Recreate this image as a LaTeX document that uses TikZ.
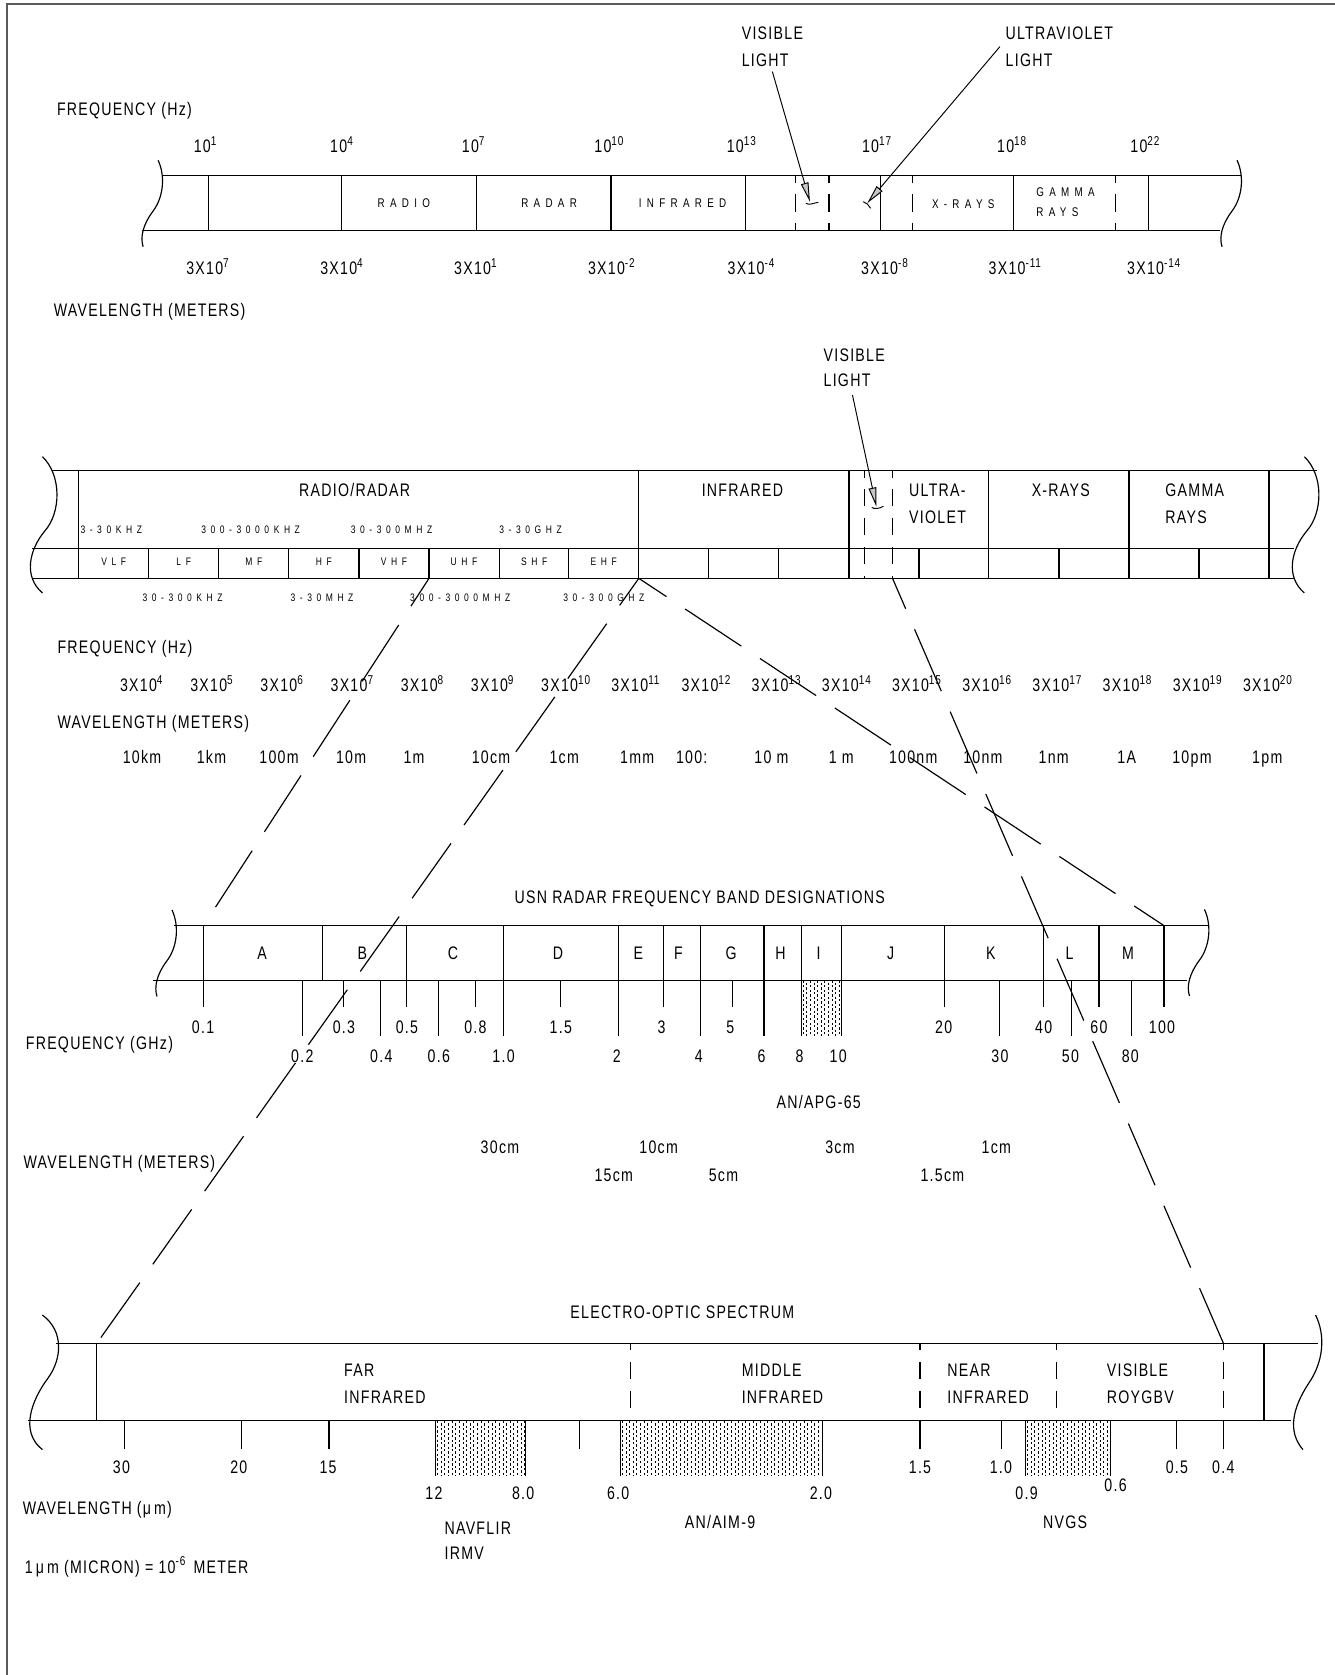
\documentclass[tikz,border=0pt]{standalone}
\usepackage{fontspec}
\setmainfont{Liberation Sans}[FakeStretch=0.78,LetterSpace=7]
\newfontfamily\spcfont{Liberation Sans}[FakeStretch=0.78,LetterSpace=42]
\usetikzlibrary{arrows.meta}
\newcommand\myexp[1]{\raisebox{3.4pt}{\fontsize{6}{6}\selectfont #1}}
\tikzset{
 ln/.style={line width=0.55pt},
 txt/.style={inner sep=0pt, anchor=base, font=\fontsize{8.5}{9}\selectfont},
 txtw/.style={txt, anchor=base west},
 sp/.style={inner sep=0pt, anchor=base, font=\spcfont\fontsize{5.9}{6}\selectfont},
 sps/.style={inner sep=0pt, anchor=base, font=\spcfont\fontsize{5.1}{5.5}\selectfont},
 spsw/.style={sps, anchor=base west},
 spw/.style={sp, anchor=base west},
 longdash/.style={line width=0.55pt, dash pattern=on 31.5pt off 10.5pt, dash phase=16pt},
 vd/.style={line width=0.55pt, dash pattern=on 8pt off 5.5pt, dash phase=4.75pt},
 ptr/.style={line width=0.45pt, -{Triangle[length=9pt,width=3.6pt,fill=gray!45]}},
}
\newcommand\stip[4]{%
 \begin{scope}
 \clip (#1,#2) rectangle (#3,#4);
 \foreach \k in {0,...,60}{
   \pgfmathsetmacro\ph{mod(\k,2)*1.1}
   \draw[line width=0.3pt, dash pattern=on 1.1pt off 1.1pt, dash phase=\ph pt] ({#1+1.7+\k*3.4},#2) -- ({#1+1.7+\k*3.4},#4);
 }
 \end{scope}
 \draw[ln] (#1,#2) -- (#1,#4) (#3,#2) -- (#3,#4);}
\begin{document}
\begin{tikzpicture}[x=0.5pt,y=-0.5pt]
\useasboundingbox (0,0) rectangle (1249.7,1568);
\draw[line width=0.9pt,black!65] (6.3,1568) -- (6.3,3.7) -- (1249.7,3.7);

% ================= TOP SPECTRUM =================
\node[txtw] (tfreq) at (53,108) {FREQUENCY (Hz)};
\node[txtw] (tvis) at (694,37.4) {VISIBLE};
\node[txtw] (tvis2) at (694,62.4) {LIGHT};
\node[txtw] (tuv) at (941,37.4) {ULTRAVIOLET};
\node[txtw] (tuv2) at (941,62.4) {LIGHT};
\foreach \x/\e [count=\i] in {192/1,319.7/4,443/7,570/10,694/13,820.6/17,947/18,1071.8/22}
  \node[txt] (tf\i) at (\x,143) {10\myexp{\e}};
\foreach \x/\e [count=\i] in {194.3/7,319.7/4,445/1,572.3/-2,703/-4,828/-8,950/-11,1080/-14}
  \node[txt] (tw\i) at (\x,257) {3X10\myexp{\e}};
\node[txtw] (twl) at (50,296.4) {WAVELENGTH (METERS)};

\draw[ln] (152,164.5) -- (1162,164.5);
\draw[ln] (133,216) -- (1142,216);
\foreach \x in {195,320,446,572,698,824,949,1075} \draw[ln] (\x,164.5) -- (\x,216);
\foreach \x in {745,776,854,1044} \draw[vd] (\x,164.5) -- (\x,216);
\draw[ln] (148,150) .. controls (155,165) and (153,185) .. (143,198) .. controls (134,210) and (131,222) .. (134,231);
\draw[ln] (1158,150) .. controls (1165,165) and (1163,185) .. (1153,198) .. controls (1144,210) and (1141,222) .. (1144,231);
\node[sp] (tradio) at (378,194) {RADIO};
\node[sp] (tradar) at (514,194) {RADAR};
\node[sp] (tir) at (639,194) {INFRARED};
\node[sp] (txr) at (901.7,195) {X-RAYS};
\node[spw] (tgam) at (969.8,184) {GAMMA};
\node[spw] (tgam2) at (969.8,202.8) {RAYS};

\coordinate (va1) at (723,67); \coordinate (va2) at (758.2,188.8);
\draw[ptr] (va1) -- (va2);
\draw[line width=0.45pt] (754.4,190.3) .. controls (757,192.5) and (762,190) .. (766,189.4);
\coordinate (ua1) at (936,43.7); \coordinate (ua2) at (811.8,190.3);
\draw[ptr] (ua1) -- (ua2);
\draw[line width=0.45pt] (808,188.8) -- (812,191) -- (815,195);

% ================= MIDDLE SPECTRUM =================
\node[txtw] (mvis) at (770.6,338.5) {VISIBLE};
\node[txtw] (mvis2) at (770.6,362) {LIGHT};
\coordinate (ma1) at (798,369.8); \coordinate (ma2) at (820.4,474.3);
\draw[ptr] (ma1) -- (ma2);
\draw[line width=0.45pt] (816,475) .. controls (819,477) and (823,476) .. (827,474);

\draw[ln] (49,440.6) -- (1233,440.6);
\draw[ln] (30,513.6) -- (1211,513.6);
\draw[ln] (31,541.4) -- (1212,541.4);
\draw[ln] (39.7,427.5) .. controls (58,445) and (57,480) .. (42,497) .. controls (27,515) and (22,540) .. (39.7,555);
\draw[ln] (1221,427.5) .. controls (1239.3,445) and (1238.3,480) .. (1223.3,497) .. controls (1208.3,515) and (1203.3,540) .. (1221,555);
\foreach \x in {73.6,598,794.7,925.6,1056.9,1187.9} \draw[ln] (\x,440.6) -- (\x,541.4);
\foreach \x in {139.2,204.8,270.4,336,401.6,467.2,532.4,663.4,729,860.3,991.3,1122.4} \draw[ln] (\x,513.6) -- (\x,541.4);
\foreach \x in {809,835.5} \draw[vd] (\x,440.6) -- (\x,541.4);

\node[txt] (mrr) at (332,465) {RADIO/RADAR};
\node[txt] (mir) at (695,465) {INFRARED};
\node[txtw] (muv) at (850.7,465) {ULTRA-};
\node[txtw] (muv2) at (850.7,489.7) {VIOLET};
\node[txt] (mxr) at (993,465) {X-RAYS};
\node[txtw] (mgam) at (1090.6,465) {GAMMA};
\node[txtw] (mgam2) at (1090.6,489.7) {RAYS};
\node[spsw] (mb1) at (75,499) {3-30KHZ};
\node[spsw] (mb2) at (188,499) {300-3000KHZ};
\node[spsw] (mb3) at (328,499) {30-300MHZ};
\node[spsw] (mb4) at (467,499) {3-30GHZ};
\foreach \x/\t [count=\i] in {106.4/VLF,172/LF,237.6/MF,303.2/HF,368.8/VHF,434.4/UHF,500/SHF,565.2/EHF}
  \node[sps] (mc\i) at (\x,529) {\t};
\node[spsw] (md1) at (133,563) {30-300KHZ};
\node[spsw] (md2) at (271.6,563) {3-30MHZ};
\node[spsw] (md3) at (383.6,563) {300-3000MHZ};
\node[spsw] (md4) at (527,563) {30-300GHZ};

\node[txtw] (mfreq) at (53.5,611.6) {FREQUENCY (Hz)};
\foreach \e [count=\i from 0] in {4,5,...,20}
  \node[txtw] (mf\i) at ({112+65.7*\i},647.5) {3X10\myexp{\e}};
\node[txtw] (mwl) at (53.5,681.8) {WAVELENGTH (METERS)};
\foreach \x/\t [count=\i] in {133/10km,197.9/1km,261.2/100m,328.7/10m,387.6/1m,459.7/10cm,528.2/1cm,596.5/1mm,647.5/100:,722.2/10 m,787.5/1 m,854.9/100nm,920.1/10nm,986.4/1nm,1054.7/1A,1115.8/10pm,1186.3/1pm}
  \node[txt] (mw\i) at (\x,714.5) {\t};

% ================= USN RADAR =================
\node[txt] (utitle) at (655,845.6) {USN RADAR FREQUENCY BAND DESIGNATIONS};
\draw[ln] (163,866.5) -- (1130.6,866.5);
\draw[ln] (143,917.6) -- (1111.5,917.6);
\draw[ln] (161,851.8) .. controls (168,866.8) and (166,886.8) .. (156,899.8) .. controls (147,911.8) and (144,923.8) .. (147,932.8);
\draw[ln] (1127.5,851.3) .. controls (1134.5,866.3) and (1132.5,886.3) .. (1122.5,899.3) .. controls (1113.5,911.3) and (1110.5,923.3) .. (1113.5,932.3);
\foreach \x in {301.7} \draw[ln] (\x,866.5) -- (\x,917.6);
\foreach \x in {190.5,380.3,621.3,883.9,977.2,1028.8,1089.6} \draw[ln] (\x,866.5) -- (\x,943);
\foreach \x in {471.4,578.8,655.8,715.2} \draw[ln] (\x,866.5) -- (\x,969.8);
\foreach \x in {321.8,445,524.9,685.7} \draw[ln] (\x,917.6) -- (\x,943);
\foreach \x in {282.9,356.4,410.4,936,1003,1059} \draw[ln] (\x,917.6) -- (\x,969.8);
\draw[ln] (750,866.5) -- (750,917.6) (788,866.5) -- (788,917.6);
\stip{750}{917.6}{788}{969.8}
\foreach \x/\t [count=\i] in {245.3/A,339.3/B,424.1/C,522.3/D,597.6/E,635.2/F,684.4/G,730.7/H,766.4/I,833.8/J,927.6/K,1001.3/L,1056/M}
  \node[txt] (ub\i) at (\x,898.6) {\t};
\foreach \x/\t [count=\i] in {190.1/0.1,322/0.3,380.9/0.5,445/0.8,525/1.5,619.3/3,683.6/5,883.4/20,977/40,1028.7/60,1087.8/100}
  \node[txt] (ut\i) at (\x,967.3) {\t};
\foreach \x/\t [count=\i] in {283/0.2,357/0.4,410.8/0.6,471.4/1.0,577.5/2,654.1/4,713/6,748.4/8,784.6/10,936/30,1002.1/50,1058.1/80}
  \node[txt] (uu\i) at (\x,994.7) {\t};
\node[txtw] (ufreq) at (23.8,982.2) {FREQUENCY (GHz)};
\node[txt] (uapg) at (766.4,1037.4) {AN/APG-65};
\node[txtw] (uwl) at (21.7,1093.6) {WAVELENGTH (METERS)};
\foreach \x/\t [count=\i] in {468/30cm,616.6/10cm,786.3/3cm,932.7/1cm}
  \node[txt] (uw\i) at (\x,1079.6) {\t};
\foreach \x/\t [count=\i] in {574.6/15cm,677.2/5cm,882.2/1.5cm}
  \node[txt] (uv\i) at (\x,1106) {\t};

% ================= ELECTRO-OPTIC =================
\node[txt] (etitle) at (638.7,1234) {ELECTRO-OPTIC SPECTRUM};
\draw[ln] (52.2,1257.4) -- (1233.7,1257.4);
\draw[ln] (25.9,1330.1) -- (1208.4,1330.1);
\draw[ln] (39.7,1231) .. controls (60,1246) and (58,1272) .. (45,1290) .. controls (30,1310) and (18,1340) .. (39.7,1357);
\draw[ln] (1231.5,1231) .. controls (1241,1250) and (1239,1275) .. (1225,1295) .. controls (1210,1318) and (1205,1340) .. (1219.7,1357);
\foreach \x in {90.7,1183.2} \draw[ln] (\x,1257.4) -- (\x,1330.1);
\foreach \x in {590,861.2,988.7,1145.2} \draw[vd] (\x,1257.4) -- (\x,1330.1);
\foreach \x in {116.2,226.1,308,542.4,861.2,937.8,1101,1145.2} \draw[ln] (\x,1330.1) -- (\x,1356.6);
\stip{407.8}{1330.1}{492.2}{1381.6}
\stip{580.8}{1330.1}{769.8}{1381.6}
\stip{960.1}{1330.1}{1039.2}{1381.6}
\node[txtw] (efar) at (321.8,1288.6) {FAR};
\node[txtw] (efar2) at (321.8,1313.6) {INFRARED};
\node[txtw] (emid) at (694,1288.6) {MIDDLE};
\node[txtw] (emid2) at (694,1313.6) {INFRARED};
\node[txtw] (enear) at (886.5,1288.6) {NEAR};
\node[txtw] (enear2) at (886.5,1313.6) {INFRARED};
\node[txtw] (evis) at (1035.8,1288.6) {VISIBLE};
\node[txtw] (evis2) at (1035.8,1313.6) {ROYGBV};
\foreach \x/\t [count=\i] in {113.7/30,223.6/20,307.1/15,861.2/1.5,937/1.0,1101.7/0.5,1145.2/0.4}
  \node[txt] (el\i) at (\x,1379) {\t};
\foreach \x/\t [count=\i] in {406.2/12,489.7/8.0,578.7/6.0,768.5/2.0,961/0.9}
  \node[txt] (em\i) at (\x,1404) {\t};
\node[txt] (e06) at (1044.3,1396.2) {0.6};
\node[txtw] (ewl) at (20.9,1418) {WAVELENGTH (μ\,m)};
\node[txtw] (enav) at (415.8,1436.8) {NAVFLIR};
\node[txtw] (enav2) at (415.8,1460.2) {IRMV};
\node[txt] (eaim) at (674,1430.5) {AN/AIM-9};
\node[txt] (envg) at (997,1430.5) {NVGS};
\node[txtw] (emic) at (23,1472.7) {1\,μ\,m (MICRON) = 10\myexp{-6}\, METER};

% ================= CONNECTORS =================
\coordinate (c1) at (401.6,541.4); \coordinate (c1e) at (190.5,866.5);
\coordinate (c2) at (598,541.4);   \coordinate (c2e) at (90.7,1257.4);
\coordinate (c3e) at (1089.6,866.5);
\coordinate (c4) at (835.5,541.4); \coordinate (c4e) at (1145.2,1257.4);
\draw[longdash] (c1) -- (c1e);
\draw[longdash] (c2) -- (c2e);
\draw[longdash] (c2) -- (c3e);
\draw[longdash] (c4) -- (c4e);
\end{tikzpicture}
\end{document}
